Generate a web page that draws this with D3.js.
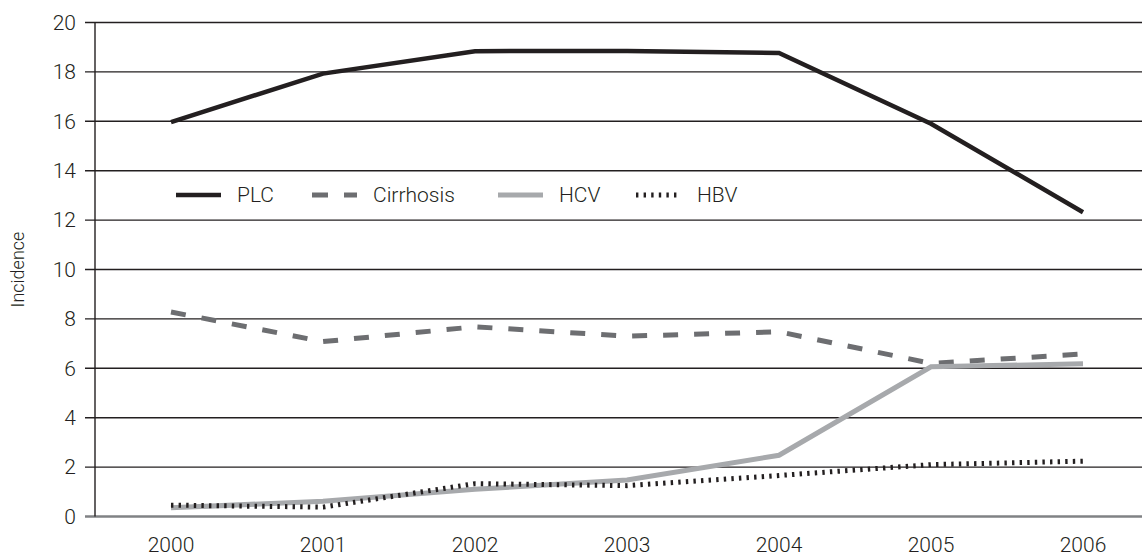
<!DOCTYPE html>
<html>
<head>
<meta charset="utf-8">
<script src="https://cdn.jsdelivr.net/npm/d3@7"></script>
<style>
  html, body { margin: 0; padding: 0; background: #fff; }
  svg { display: block; }
  text { font-family: Roboto, "DejaVu Sans Condensed", sans-serif; font-weight: 300; fill: #231f20; }
</style>
</head>
<body>
<svg id="chart" width="1142" height="558"></svg>
<script>
const years = ["2000", "2001", "2002", "2003", "2004", "2005", "2006"];
const plc = [15.97, 17.93, 18.84, 18.85, 18.77, 15.9, 12.32];
const cirrhosis = [8.28, 7.08, 7.68, 7.3, 7.48, 6.2, 6.58];
const hcv = [0.35, 0.62, 1.1, 1.48, 2.48, 6.06, 6.18];
const hbv = [0.46, 0.38, 1.33, 1.25, 1.66, 2.1, 2.24];
const yTicks = [0, 2, 4, 6, 8, 10, 12, 14, 16, 18, 20];
const seriesNames = ["PLC", "Cirrhosis", "HCV", "HBV"];

const svg = d3.select("#chart");
const W = 1142, H = 558;
const mLeft = 95, mTop = 22.5, mBottom = 516.5;

const x = d3.scaleBand().domain(years).range([mLeft, mLeft + 7 * 152]);
const xc = d => x(d) + x.bandwidth() / 2;
const y = d3.scaleLinear().domain([0, 20]).range([mBottom, mTop]);

// gridlines
svg.append("g").selectAll("line")
  .data(yTicks.filter(t => t > 0))
  .join("line")
  .attr("x1", mLeft - 10).attr("x2", W)
  .attr("y1", d => y(d)).attr("y2", d => y(d))
  .attr("stroke", "#231f20").attr("stroke-width", 1.4);

// y axis labels via d3 axis
const yAxis = svg.append("g")
  .attr("transform", `translate(${mLeft},0)`)
  .call(d3.axisLeft(y).tickValues(yTicks).tickSize(0).tickPadding(19));
yAxis.select(".domain").remove();
yAxis.selectAll("text")
  .style("font-size", "21px")
  .style("font-family", "Roboto, sans-serif")
  .style("font-weight", "300")
  .attr("fill", "#231f20");

// zero baseline
svg.append("line")
  .attr("x1", mLeft - 10).attr("x2", W)
  .attr("y1", y(0)).attr("y2", y(0))
  .attr("stroke", "#808285").attr("stroke-width", 2.5);

// y axis vertical line
svg.append("line")
  .attr("x1", mLeft).attr("x2", mLeft)
  .attr("y1", y(20)).attr("y2", y(0))
  .attr("stroke", "#231f20").attr("stroke-width", 1.4);

// x axis labels
const xAxis = svg.append("g")
  .attr("transform", `translate(0,${mBottom})`)
  .call(d3.axisBottom(x).tickSize(0).tickPadding(21));
xAxis.select(".domain").remove();
xAxis.selectAll("text")
  .style("font-size", "21px")
  .style("font-family", "Roboto, sans-serif")
  .style("font-weight", "300")
  .attr("fill", "#231f20");

// y label
svg.append("text")
  .attr("transform", `translate(24,${(mTop + mBottom) / 2}) rotate(-90)`)
  .attr("text-anchor", "middle")
  .style("font-size", "18px")
  .text("Incidence");

const styles = {
  PLC: { color: "#231f20", width: 4.5, dash: null },
  Cirrhosis: { color: "#6d6e71", width: 5, dash: "15,16" },
  HCV: { color: "#a7a9ac", width: 5, dash: null },
  HBV: { color: "#231f20", width: 5, dash: "2.4,5.2" }
};
const data = { PLC: plc, Cirrhosis: cirrhosis, HCV: hcv, HBV: hbv };

const line = d3.line().x((d, i) => xc(years[i])).y(d => y(d));

svg.append("g").selectAll("path")
  .data(seriesNames)
  .join("path")
  .attr("d", n => line(data[n]))
  .attr("fill", "none")
  .attr("stroke", n => styles[n].color)
  .attr("stroke-width", n => styles[n].width)
  .attr("stroke-dasharray", n => styles[n].dash)
  .attr("stroke-linejoin", "miter")
  .attr("stroke-linecap", "butt");

// legend
const legX = [176, 312, 498, 636];
const legY = 195;
const leg = svg.append("g").selectAll("g")
  .data(seriesNames)
  .join("g")
  .attr("transform", (n, i) => `translate(${legX[i]},${legY})`);
leg.append("line")
  .attr("x1", 0).attr("x2", 45)
  .attr("y1", 0).attr("y2", 0)
  .attr("stroke", n => styles[n].color)
  .attr("stroke-width", n => styles[n].width)
  .attr("stroke-dasharray", n => n === "Cirrhosis" ? "16,16" : styles[n].dash);
leg.append("text")
  .attr("x", 61)
  .attr("y", 0)
  .attr("dy", "0.35em")
  .style("font-size", "21px")
  .text(n => n);
</script>
</body>
</html>
